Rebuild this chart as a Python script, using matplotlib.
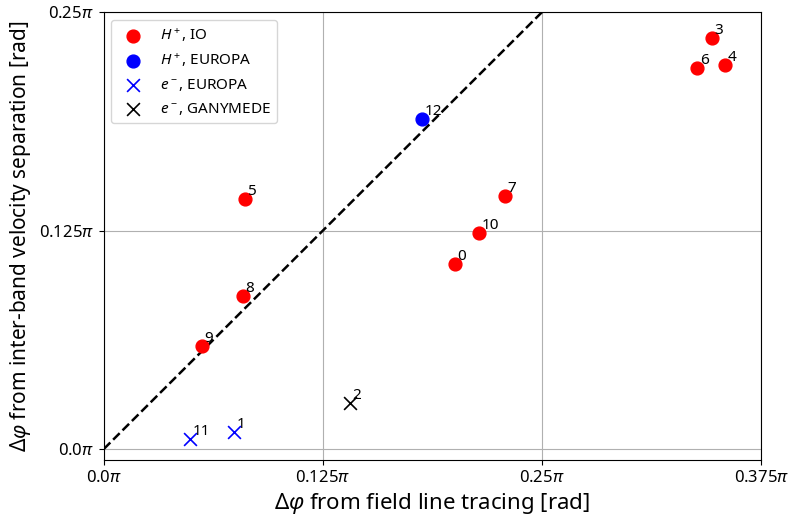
import numpy as np
import matplotlib
matplotlib.use("Agg")
import matplotlib.pyplot as plt
from matplotlib.ticker import FuncFormatter

plt.rcParams['font.family'] = ['Noto Sans', 'DejaVu Sans']
plt.rcParams['mathtext.fontset'] = 'custom'
plt.rcParams['mathtext.rm'] = 'Noto Sans'
plt.rcParams['mathtext.it'] = 'Noto Sans:italic'

# data in units of pi
ids = [0, 1, 2, 3, 4, 5, 6, 7, 8, 9, 10, 11, 12]
x_trace = [0.2003, 0.0742, 0.1404, 0.3470, 0.3545, 0.0805, 0.3385, 0.2289, 0.0793, 0.0559, 0.2140, 0.0491, 0.1815]
y_vel = [0.1058, 0.0097, 0.0263, 0.2351, 0.2197, 0.1430, 0.2180, 0.1447, 0.0875, 0.0589, 0.1236, 0.0057, 0.1888]
group = ["H_IO", "e_EUROPA", "e_GANYMEDE", "H_IO", "H_IO", "H_IO", "H_IO", "H_IO",
         "H_IO", "H_IO", "H_IO", "e_EUROPA", "H_EUROPA"]

styles = {
    "H_IO": dict(marker="o", color="red", label=r"$H^+$, IO"),
    "H_EUROPA": dict(marker="o", color="blue", label=r"$H^+$, EUROPA"),
    "e_EUROPA": dict(marker="x", color="blue", label=r"$e^-$, EUROPA"),
    "e_GANYMEDE": dict(marker="x", color="black", label=r"$e^-$, GANYMEDE"),
}

x = np.array(x_trace) * np.pi
y = np.array(y_vel) * np.pi
group = np.array(group)

fig, ax = plt.subplots(figsize=(7.92, 5.27), dpi=100)

ax.plot([0, 0.25 * np.pi], [0, 0.25 * np.pi], color="black", linestyle="--", linewidth=1.8, zorder=2)

for key, st in styles.items():
    m = group == key
    if st["marker"] == "o":
        ax.scatter(x[m], y[m], s=85, marker="o", color=st["color"], label=st["label"], zorder=3)
    else:
        ax.scatter(x[m], y[m], s=85, marker="x", color=st["color"], linewidths=1.2, label=st["label"], zorder=3)

for i, xi, yi in zip(ids, x, y):
    ax.annotate(str(i), xy=(xi, yi), xytext=(2, 3), textcoords="offset points", fontsize=11)

ticks = [0, 0.125 * np.pi, 0.25 * np.pi, 0.375 * np.pi]
ax.set_xticks(ticks)
ax.set_yticks(ticks[:3])
fmt = FuncFormatter(lambda v, p: "{:g}".format(round(v / np.pi, 3)).replace("0", "0.0", 1) if v == 0 else "{:g}".format(round(v / np.pi, 3)) + r"$\pi$")
ax.xaxis.set_major_formatter(FuncFormatter(lambda v, p: ("0.0" if v == 0 else "{:g}".format(round(v / np.pi, 3))) + r"$\pi$"))
ax.yaxis.set_major_formatter(FuncFormatter(lambda v, p: ("0.0" if v == 0 else "{:g}".format(round(v / np.pi, 3))) + r"$\pi$"))
ax.set_xlim(0, 0.375 * np.pi)
ax.set_ylim(-0.0063 * np.pi, 0.25 * np.pi)
ax.tick_params(labelsize=12)
ax.grid(True, color="#b0b0b0", linewidth=0.8)
ax.set_axisbelow(True)

ax.set_xlabel(r"$\Delta\varphi$ from field line tracing [rad]", fontsize=16)
ax.set_ylabel(r"$\Delta\varphi$ from inter-band velocity separation [rad]", fontsize=15)
ax.legend(loc="upper left", fontsize=11)

fig.subplots_adjust(left=0.131, right=0.961, top=0.977, bottom=0.127)
fig.savefig("out.png", dpi=100)
